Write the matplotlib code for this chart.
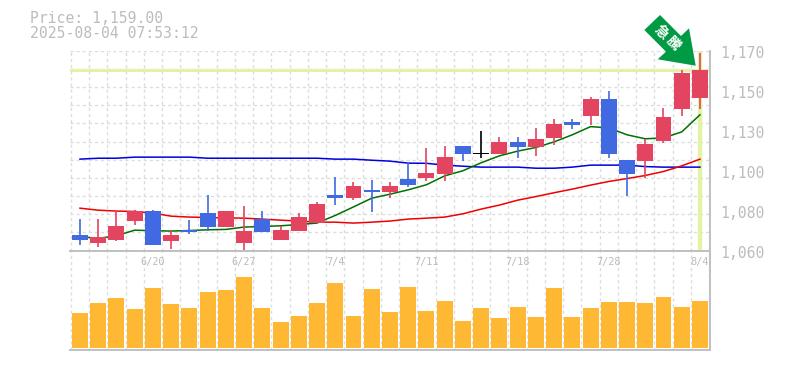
"""Candlestick chart with moving averages and a volume panel."""

import matplotlib

matplotlib.use("Agg")
import matplotlib.patches as patches
import matplotlib.pyplot as plt
import numpy as np

plt.rcParams["font.family"] = ["DejaVu Sans Mono", "Noto Sans CJK JP"]

# OHLC
opens = [1068.7, 1064.3, 1065.9, 1076.4, 1081.9, 1065.4, 1071.4, 1080.8, 1073.0, 1064.3, 1077.4, 1065.9,
         1070.9, 1075.3, 1090.7, 1089.0, 1093.4, 1092.3, 1099.5, 1100.0, 1102.2, 1117.6, 1113.8, 1113.2,
         1119.8, 1117.0, 1122.0, 1130.8, 1134.1, 1143.5, 1109.9, 1109.3, 1120.3, 1138.0, 1144.0]
highs = [1077.4, 1077.4, 1081.5, 1082.4, 1082.4, 1071.4, 1076.9, 1090.6, 1081.9, 1084.6, 1081.9, 1073.6,
         1080.8, 1086.8, 1100.6, 1097.8, 1098.9, 1097.8, 1108.3, 1116.5, 1117.6, 1117.6, 1125.9, 1122.6,
         1122.6, 1127.5, 1132.5, 1132.5, 1144.6, 1147.9, 1109.9, 1121.5, 1138.5, 1159.4, 1168.8]
lows = [1063.2, 1062.1, 1065.4, 1074.1, 1063.2, 1061.0, 1069.2, 1070.9, 1073.0, 1059.9, 1070.3, 1065.9,
        1070.9, 1075.3, 1085.2, 1087.9, 1081.3, 1089.0, 1095.1, 1098.4, 1098.4, 1109.4, 1111.0, 1113.2,
        1111.0, 1112.1, 1118.2, 1127.0, 1129.2, 1111.0, 1090.1, 1100.0, 1119.3, 1134.1, 1138.0]
closes = [1065.9, 1067.6, 1073.6, 1081.9, 1063.2, 1068.7, 1070.3, 1073.0, 1081.9, 1070.9, 1070.3, 1071.4,
          1078.6, 1085.7, 1089.0, 1095.6, 1092.3, 1095.6, 1096.2, 1102.8, 1111.6, 1113.2, 1113.2, 1119.8,
          1117.0, 1121.5, 1129.7, 1129.2, 1143.5, 1113.2, 1102.2, 1118.7, 1133.6, 1157.8, 1159.4]

ma_short = [1067.6, 1066.7, 1068.1, 1071.2, 1070.9, 1070.7, 1071.0, 1071.4, 1071.6, 1072.9, 1073.2, 1073.6,
            1074.3, 1075.1, 1079.3, 1084.0, 1088.8, 1091.0, 1093.4, 1096.2, 1101.1, 1103.9, 1108.3, 1112.1,
            1114.7, 1116.7, 1119.8, 1123.7, 1128.2, 1127.5, 1123.7, 1121.5, 1122.0, 1125.3, 1134.7]
ma_mid = [1083.3, 1082.2, 1081.7, 1081.5, 1080.6, 1078.9, 1078.4, 1078.2, 1078.0, 1077.8, 1077.3, 1076.7,
          1076.2, 1075.6, 1075.6, 1075.1, 1075.6, 1076.2, 1077.3, 1077.8, 1078.4, 1080.2, 1082.8, 1085.0,
          1087.7, 1089.7, 1091.8, 1093.8, 1096.0, 1098.0, 1099.6, 1101.3, 1103.5, 1106.6, 1110.3]
ma_long = [1110.3, 1110.8, 1110.8, 1111.4, 1111.4, 1111.4, 1111.4, 1110.8, 1110.8, 1110.8, 1110.8, 1110.8,
           1110.8, 1110.8, 1110.3, 1110.3, 1109.7, 1109.2, 1108.1, 1108.0, 1107.0, 1106.4, 1105.9, 1105.9,
           1105.9, 1105.3, 1105.3, 1105.9, 1107.0, 1107.0, 1107.0, 1106.2, 1105.9, 1105.9, 1105.9]

volumes = [35, 45, 50, 39, 60, 44, 40, 56, 58, 71, 40, 26, 32, 45, 65, 32, 59, 36,
           61, 37, 47, 27, 40, 30, 41, 31, 60, 31, 40, 46, 46, 45, 51, 41, 47]

last_price = 1159.4
date_idx = [4, 9, 14, 19, 24, 29, 34]
date_labels = ["6/20", "6/27", "7/4", "7/11", "7/18", "7/28", "8/4"]
price_ticks = [1060, 1082, 1104, 1126, 1148, 1170]
price_labels = ["1,060", "1,080", "1,100", "1,130", "1,150", "1,170"]

RED = "#e34460"
BLUE = "#4169e1"
GRID = "#dcdcdc"
AXIS = "#c0c0c0"
TEXT = "#bcbcbc"
HILITE = "#e2f3a6"
W, H = 785, 370


def px_axes(fig, left, top, right, bottom):
    """Axes placed by pixel edges, measured from the top left of the image."""
    return fig.add_axes([left / W, 1 - bottom / H, (right - left) / W, (bottom - top) / H])


def style_panel(ax):
    """Dashed grid between the bars, grey bottom and right edge."""
    ax.set_xlim(-0.53, 34.55)
    ax.set_xticks(np.arange(-0.5, 34.6, 1))
    ax.tick_params(length=0, labelleft=False, labelbottom=False)
    ax.grid(True, axis="x", color=GRID, linewidth=1, linestyle=(0, (2.2, 2.2)))
    ax.set_axisbelow(True)
    for side in ["top", "left"]:
        ax.spines[side].set_visible(False)
    for side in ["right", "bottom"]:
        ax.spines[side].set_color(AXIS)
        ax.spines[side].set_linewidth(1.4)


def draw_candles(ax):
    """Wicks and bodies; red closes up, blue closes down, black for the doji."""
    for i, (o, h, l, c) in enumerate(zip(opens, highs, lows, closes)):
        color = RED if c > o else BLUE
        if i == 22:
            color = "black"
        ax.vlines(i, l, h, color=color, linewidth=1.2, zorder=3)
        bottom = min(o, c)
        height = max(abs(c - o), 0.6)
        ax.bar(i, height, bottom=bottom, width=0.875, color=color, linewidth=0, zorder=4)


fig = plt.figure(figsize=(W / 100, H / 100), dpi=100)
ax = px_axes(fig, 70.3, 50.7, 710, 250.5)
ax_vol = px_axes(fig, 70.3, 250.5, 710, 349.5)

style_panel(ax)
ax.set_ylim(1060.1, 1170)
ax.set_yticks(np.arange(1060, 1171, 10))
ax.grid(True, axis="y", color=GRID, linewidth=1, linestyle=(0, (2.2, 2.2)))

ax.axhline(last_price, color=HILITE, linewidth=2.2, zorder=1.5)
ax.axvline(34, color=HILITE, linewidth=3.2, zorder=1.5)

x = np.arange(len(closes))
ax.plot(x, ma_long, color="#0000e0", linewidth=1.1, zorder=2.5)
ax.plot(x, ma_mid, color="#f00000", linewidth=1.1, zorder=2.5)
ax.plot(x, ma_short, color="#007000", linewidth=1.1, zorder=2.5)
draw_candles(ax)

# Price labels sit a little below their grid level in the original
for tick, label in zip(price_ticks, price_labels):
    fig.text(720 / W, (ax.transData.transform((0, tick))[1] - 3) / H, label,
             color=TEXT, fontsize=10.6, va="center", ha="left")

style_panel(ax_vol)
ax_vol.spines["top"].set_visible(True)
ax_vol.spines["top"].set_color(AXIS)
ax_vol.spines["top"].set_linewidth(1.4)
ax_vol.bar(x, volumes, width=0.875, color="#ffb833", linewidth=0, zorder=3)
ax_vol.set_ylim(-1.5, 97.5)
for i, label in zip(date_idx, date_labels):
    ax_vol.text(i, 85.5, label, color=TEXT, fontsize=7.4, ha="center", va="center", zorder=2)

# Header text
fig.text(30 / W, 1 - 18.5 / H, "Price: 1,159.00", color=TEXT, fontsize=10.6, va="center")
fig.text(30 / W, 1 - 33 / H, "2025-08-04 07:53:12", color=TEXT, fontsize=10.6, va="center")

# Green signal arrow pointing at the last candle
arrow_px = [(660, 15), (644.3, 30), (666, 51.7), (657.7, 59.3), (695.7, 65.7), (689, 28.3), (681, 36)]
arrow_pts = [(px / W, 1 - py / H) for px, py in arrow_px]
fig.add_artist(patches.Polygon(arrow_pts, closed=True, transform=fig.transFigure,
                               facecolor="#009a44", edgecolor="none", zorder=10))
fig.text(661 / W, 1 - 32 / H, "\u6025", color="white", fontsize=10, rotation=-45, fontweight="bold",
         ha="center", va="center", zorder=11, family=["Noto Sans CJK JP", "DejaVu Sans"])
fig.text(673 / W, 1 - 43.5 / H, "\u9a30", color="white", fontsize=10, rotation=-45, fontweight="bold",
         ha="center", va="center", zorder=11, family=["Noto Sans CJK JP", "DejaVu Sans"])

fig.savefig("out.png", dpi=100)
